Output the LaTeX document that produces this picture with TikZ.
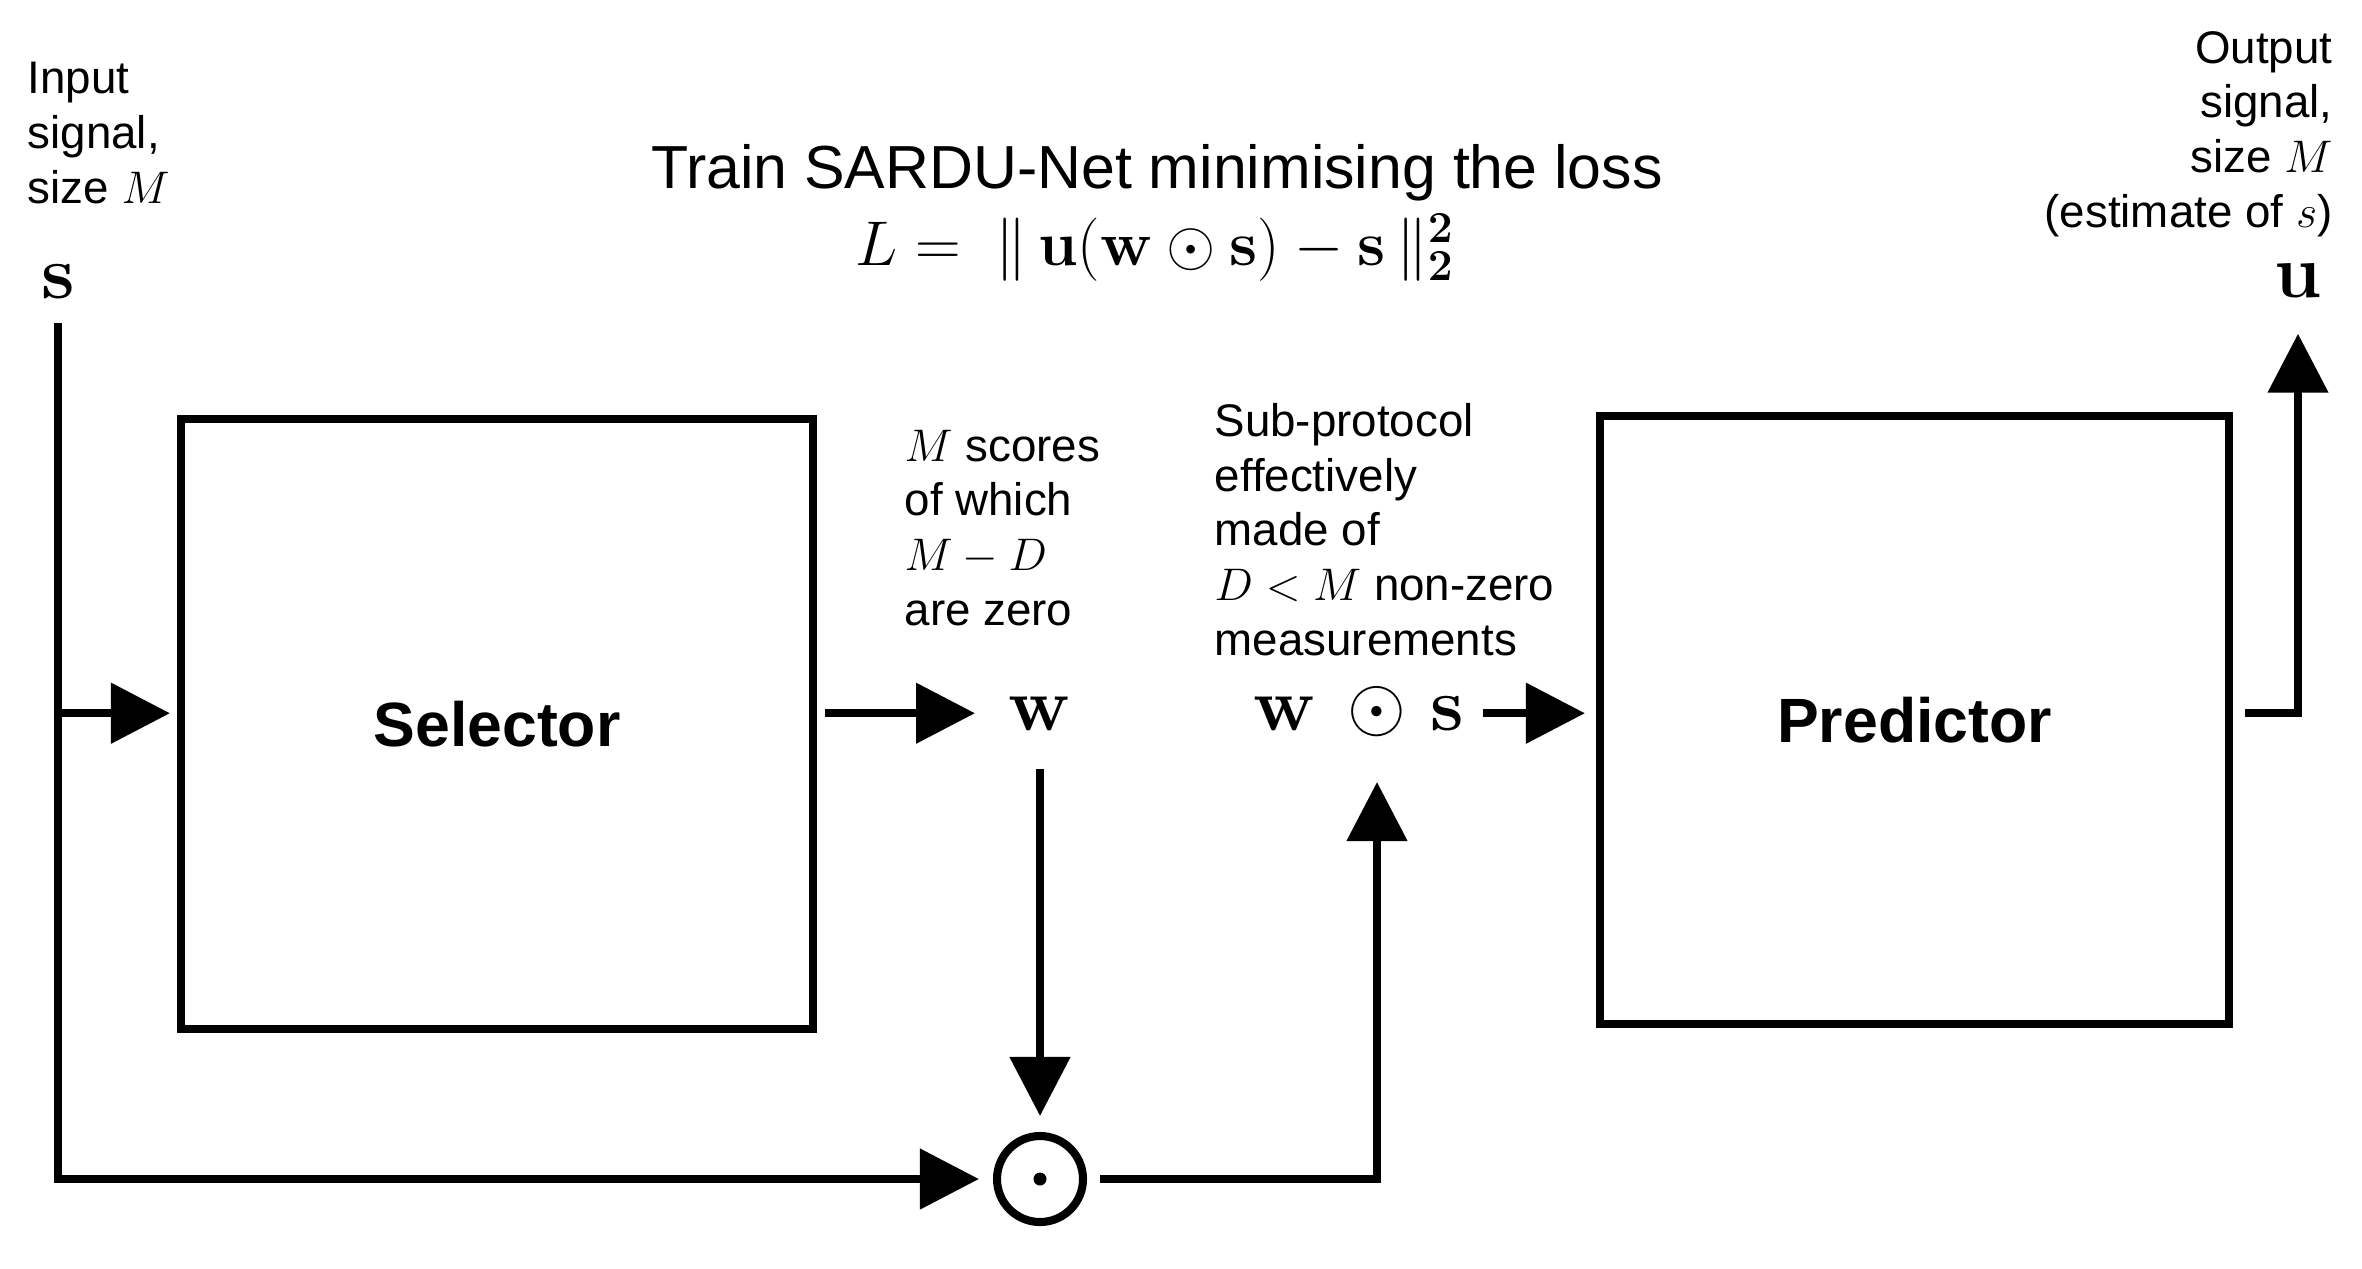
\RequirePackage{fix-cm}
\documentclass[tikz,border=0pt]{standalone}
\usepackage[no-math]{fontspec}
\setmainfont{Liberation Sans}
\usetikzlibrary{arrows.meta,calc}
\begin{document}
\begin{tikzpicture}[x=0.1mm,y=-0.1mm,
  txt/.style={font=\fontsize{13}{15.55}\selectfont, inner sep=0pt},
  sym/.style={font=\fontsize{21.5}{25}\selectfont, inner sep=0pt},
  blockbox/.style={draw, rectangle, line width=2.3pt, inner sep=0pt,
    font=\fontsize{17.8}{21}\selectfont\bfseries},
  ln/.style={line width=2.3pt},
  arr/.style={ln, -{Triangle[length=5.9mm,width=5.9mm]}},
  opcirc/.style={circle, draw, line width=2.3pt, minimum size=8.6mm, inner sep=0pt}]
\useasboundingbox (0,0) rectangle (2362,1268);

% labels (multi-line nodes: base = baseline of last line)
\node[sym, anchor=base] (s) at (58,298) {$\mathbf{s}$};
\node[txt, anchor=base west, align=left] (intxt) at (27,203) {Input\\signal,\\size $M$};
\node[sym, anchor=base] (u) at (2298,297) {$\mathbf{u}$};
\node[txt, anchor=base east, align=right] (outtxt) at (2333,227) {Output\\signal,\\size $M$\\(estimate of $s$)};

\node[font=\fontsize{17.3}{20}\selectfont, anchor=base, inner sep=0pt] (title) at (1157,188) {Train SARDU-Net minimising the loss};
\node[font=\fontsize{18}{22}\selectfont, anchor=base, inner sep=0pt] (loss) at (1155,265) {$L =\ \|\,\mathbf{u}(\mathbf{w}\odot\mathbf{s})-\mathbf{s}\,\|_{\mathbf{2}}^{\mathbf{2}}$};

% blocks
\node[blockbox, minimum width=63.2mm, minimum height=61mm] (sel) at (497,724) {Selector};
\node[blockbox, minimum width=62.9mm, minimum height=60.8mm] (pred) at (1914.5,720) {Predictor};

\node[sym, anchor=base] (w) at (1040,730) {$\mathbf{w}$};
\node[txt, anchor=base west, align=left] (wtxt) at (904,625) {$M$ scores\\of which\\$M-D$\\are zero};

\node[sym, anchor=base] (wsop) at (1377,730) {$\odot$};
\node[sym, anchor=base east] (wsw) at ([xshift=-3.0mm]wsop.base west) {$\mathbf{w}$};
\node[sym, anchor=base west] (wss) at ([xshift=2.3mm]wsop.base east) {$\mathbf{s}$};
\node[txt, anchor=base west, align=left] (subtxt) at (1214,655) {Sub-protocol\\effectively\\made of\\$D<M$ non-zero\\measurements};

\node[opcirc] (odot) at (1040,1179) {};
\fill (odot.center) circle[radius=0.65mm];

\coordinate (jl) at (s.south |- w.center);

% connectors
\draw[arr, shorten <=2.4mm, shorten >=1.4mm] (s.south) |- (odot.west);
\draw[arr, shorten >=0.7mm] (jl) -- (jl -| sel.west);
\draw[arr, shorten <=0.8mm, shorten >=3.3mm] (sel.east |- w.center) -- (w.west);
\draw[arr, shorten <=3.8mm, shorten >=1.6mm] (w.south) -- (odot.north);
\draw[arr, shorten <=1.3mm, shorten >=4.5mm] (odot.east) -| (wsop.south);
\draw[arr, shorten <=1.8mm, shorten >=1.1mm] (wss.east) -- (wss.east -| pred.west);
\draw[arr, shorten <=1.2mm, shorten >=3.6mm] (pred.east |- w.center) -| (u.south);
\end{tikzpicture}
\end{document}
